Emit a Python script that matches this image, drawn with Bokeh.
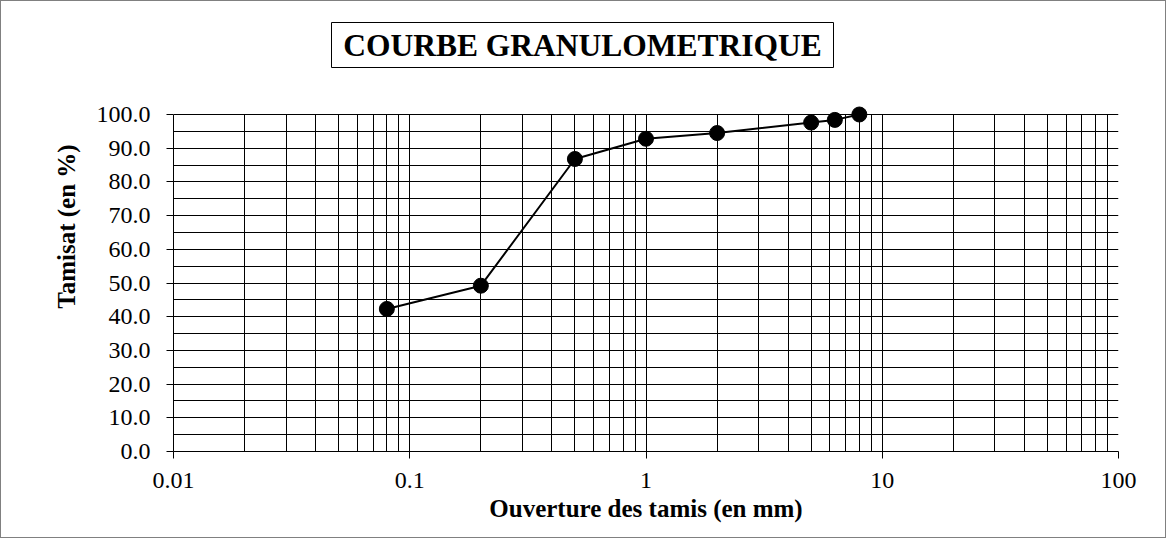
from bokeh.plotting import figure
from bokeh.models import (Range1d, FixedTicker, CustomJSTickFormatter,
                          PrintfTickFormatter)
from bokeh.core.properties import value
from bokeh.embed import file_html
from bokeh.resources import INLINE

# ---- data ----
sieve_mm = [0.08, 0.2, 0.5, 1, 2, 5, 6.3, 8]
passing_pct = [42.3, 49.2, 86.8, 92.8, 94.5, 97.6, 98.4, 100.0]

x_major = [0.01, 0.1, 1, 10, 100]
x_minor = [k * d for d in [0.01, 0.1, 1, 10] for k in range(2, 10)]
y_major = list(range(0, 101, 10))
y_minor = list(range(5, 100, 10))

title_text = "COURBE GRANULOMETRIQUE"
x_label = "Ouverture des tamis (en mm)"
y_label = "Tamisat (en %)"

FONT = "Liberation Serif"

# ---- layout constants (pixels on the canvas) ----
FRAME_LEFT = 172
FRAME_W = 945
FRAME_H = 450          # frame reaches the top of the canvas (title lives inside)
PLOT_H = 337           # height of the 0..100 % band
DEC_PX = FRAME_W / 4.0
PX_PER_UNIT = PLOT_H / 100.0
Y_TOP = FRAME_H / PX_PER_UNIT


def x_at(px):
    return 10 ** (-2 + (px - FRAME_LEFT) / DEC_PX)


def y_at(py):
    return (FRAME_H - py) / PX_PER_UNIT


p = figure(x_axis_type="log",
           x_range=Range1d(0.01, 100), y_range=Range1d(0, Y_TOP),
           frame_width=FRAME_W, frame_height=FRAME_H,
           min_border_left=FRAME_LEFT, min_border_right=47,
           min_border_top=0, min_border_bottom=86,
           output_backend="svg", toolbar_location=None)
p.styles = {"border": "1px solid #808080"}
p.background_fill_color = "white"
p.border_fill_color = "white"
p.outline_line_color = None

# axes
xt = FixedTicker(ticks=x_major, minor_ticks=x_minor)
yt = FixedTicker(ticks=y_major, minor_ticks=y_minor)
p.xaxis.ticker = xt
p.yaxis.ticker = yt
p.xaxis.formatter = CustomJSTickFormatter(code="return tick.toString();")
p.yaxis.formatter = PrintfTickFormatter(format="%.1f")
p.yaxis.bounds = (0, 100)

for ax in (p.xaxis[0], p.yaxis[0]):
    ax.axis_line_color = "black"
    ax.axis_line_width = 1
    ax.major_tick_line_color = "black"
    ax.major_tick_out = 7
    ax.major_tick_in = 0
    ax.minor_tick_line_color = None
    ax.major_label_text_font = FONT
    ax.major_label_text_font_size = "24px"
    ax.major_label_text_color = "black"
    ax.axis_label_text_font = FONT
    ax.axis_label_text_font_size = "25px"
    ax.axis_label_text_font_style = "bold"
    ax.axis_label_text_color = "black"

p.xaxis.axis_label = x_label
p.yaxis.axis_label = y_label
p.xaxis.major_label_standoff = 14
p.xaxis.axis_label_standoff = 4
p.yaxis.major_label_standoff = 16
p.yaxis.axis_label_standoff = 14

# grids
for g in (p.xgrid[0], p.ygrid[0]):
    g.grid_line_color = "black"
    g.grid_line_width = 1
    g.grid_line_alpha = 1
    g.minor_grid_line_color = "black"
    g.minor_grid_line_width = 1
    g.minor_grid_line_alpha = 1
p.xgrid.ticker = xt
p.ygrid.ticker = yt

try:
    p.xgrid[0].cross_bounds = (0, 100)
except Exception:
    p.quad(left=[0.01], right=[100], bottom=[100.3], top=[Y_TOP],
           fill_color="white", line_color=None)

# data
p.line(sieve_mm, passing_pct, line_color="black", line_width=2)
p.scatter(sieve_mm, passing_pct, size=15, fill_color="black", line_color="black")

# title box (drawn in the upper band of the frame)
p.quad(left=[x_at(330)], right=[x_at(832)], top=[y_at(21)], bottom=[y_at(66)],
       fill_color="white", line_color="black", line_width=1)
p.text(x=[x_at(581)], y=[y_at(44)], text=[title_text],
       text_align="center", text_baseline="middle",
       text_font=value(FONT), text_font_size="31.5px", text_font_style="bold",
       text_color="black")

open("out.html", "w").write(file_html(p, INLINE))
